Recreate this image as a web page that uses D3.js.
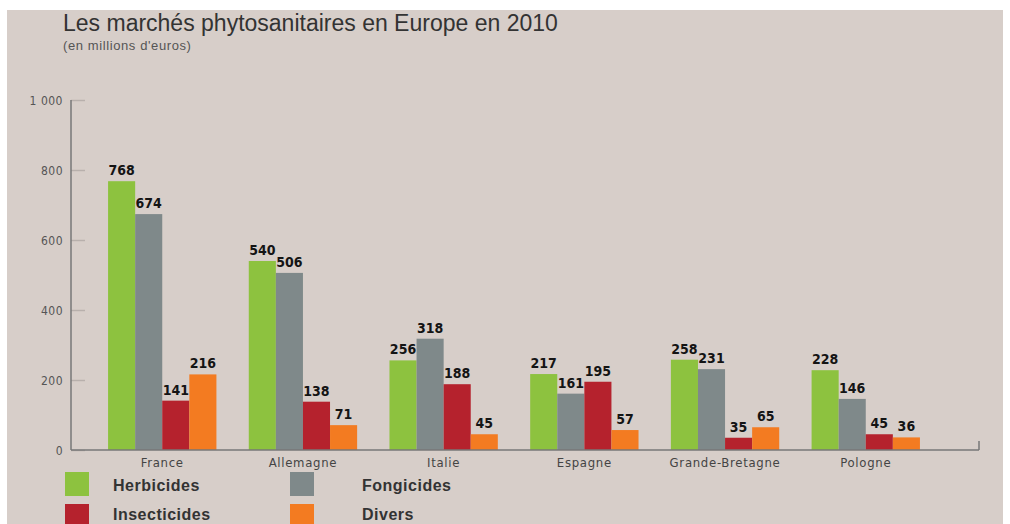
<!DOCTYPE html>
<html>
<head>
<meta charset="utf-8">
<script src="https://d3js.org/d3.v7.min.js"></script>
<style>
  body { margin: 0; background: #fff; }
  svg { display: block; }
</style>
</head>
<body>
<svg id="chart" width="1010" height="524"></svg>
<script>
// data
var countries = ["France", "Allemagne", "Italie", "Espagne", "Grande-Bretagne", "Pologne"];
var seriesNames = ["Herbicides", "Fongicides", "Insecticides", "Divers"];
var herbicides = [768, 540, 256, 217, 258, 228];
var fongicides = [674, 506, 318, 161, 231, 146];
var insecticides = [141, 138, 188, 195, 35, 45];
var divers = [216, 71, 45, 57, 65, 36];
var yTicks = [0, 200, 400, 600, 800, 1000];

var colors = ["#8dc23f", "#7f898a", "#b5222d", "#f37b21"];
var series = [herbicides, fongicides, insecticides, divers];

var svg = d3.select("#chart");

// background panel
svg.append("rect")
  .attr("x", 7).attr("y", 10)
  .attr("width", 996).attr("height", 514)
  .style("fill", "#d7cec9");

// title
svg.append("text")
  .attr("x", 63).attr("y", 31)
  .text("Les marchés phytosanitaires en Europe en 2010")
  .style("font-family", "Liberation Sans, Arial, sans-serif")
  .style("font-size", "23px")
  .style("fill", "#333");
svg.append("text")
  .attr("x", 63).attr("y", 50)
  .text("(en millions d'euros)")
  .style("font-family", "Liberation Sans, Arial, sans-serif")
  .style("font-size", "13px")
  .style("letter-spacing", "0.6px")
  .style("fill", "#555");

var x0 = d3.scaleBand()
  .domain(countries)
  .range([94, 934])
  .paddingInner(0.23)
  .paddingOuter(0.1);

var x1 = d3.scaleBand()
  .domain(seriesNames)
  .range([0, x0.bandwidth()]);

var y = d3.scaleLinear()
  .domain([0, 1000])
  .range([450, 100]);

// y axis
var yAxis = d3.axisRight(y)
  .tickValues(yTicks)
  .tickSize(14)
  .tickFormat(function(d) { return d === 1000 ? "1 000" : d; });

var gy = svg.append("g")
  .attr("transform", "translate(71,0)")
  .call(yAxis);
gy.select(".domain").remove();
gy.selectAll(".tick line")
  .style("stroke", "#b8b0ac")
  .style("stroke-width", 1.5);
gy.selectAll(".tick text")
  .attr("x", -8)
  .attr("dy", "0.35em")
  .style("text-anchor", "end")
  .style("font-family", "DejaVu Sans Condensed, sans-serif")
  .style("font-size", "12px")
  .style("letter-spacing", "0.5px")
  .style("fill", "#555");

svg.append("line")
  .attr("x1", 71).attr("x2", 71)
  .attr("y1", y(1000)).attr("y2", y(0))
  .style("stroke", "#777").style("stroke-width", 1.5);

// bars
var groups = svg.selectAll(".grp")
  .data(countries)
  .enter().append("g")
  .attr("class", "grp")
  .attr("transform", function(d) { return "translate(" + x0(d) + ",0)"; });

groups.each(function(c, i) {
  var g = d3.select(this);
  var vals = series.map(function(s, k) { return { name: seriesNames[k], v: s[i], k: k }; });
  g.selectAll("rect")
    .data(vals)
    .enter().append("rect")
    .attr("x", function(d) { return x1(d.name); })
    .attr("y", function(d) { return y(d.v); })
    .attr("width", x1.bandwidth())
    .attr("height", function(d) { return y(0) - y(d.v); })
    .style("fill", function(d) { return colors[d.k]; });
  g.selectAll("text")
    .data(vals)
    .enter().append("text")
    .attr("x", function(d) { return x1(d.name) + x1.bandwidth() / 2; })
    .attr("y", function(d) { return y(d.v) - 6; })
    .attr("text-anchor", "middle")
    .text(function(d) { return d.v; })
    .style("font-family", "DejaVu Sans Condensed, sans-serif")
    .style("font-weight", "bold")
    .style("font-size", "14px")
    .style("fill", "#141414");
});

// x axis
svg.append("line")
  .attr("x1", 71).attr("x2", 979)
  .attr("y1", y(0)).attr("y2", y(0))
  .style("stroke", "#777").style("stroke-width", 1.5);
svg.append("line")
  .attr("x1", 979).attr("x2", 979)
  .attr("y1", y(0) - 9).attr("y2", y(0))
  .style("stroke", "#777").style("stroke-width", 1.5);

svg.selectAll(".cat")
  .data(countries)
  .enter().append("text")
  .attr("class", "cat")
  .attr("x", function(d) { return x0(d) + x0.bandwidth() / 2; })
  .attr("y", 467)
  .attr("text-anchor", "middle")
  .text(function(d) { return d; })
  .style("font-family", "DejaVu Sans Condensed, sans-serif")
  .style("font-size", "13px")
  .style("letter-spacing", "0.7px")
  .style("fill", "#444");

// legend
var legendPos = [[65, 472], [290, 472], [65, 504], [290, 504]];
var legend = svg.selectAll(".leg")
  .data(seriesNames)
  .enter().append("g")
  .attr("class", "leg")
  .attr("transform", function(d, i) { return "translate(" + legendPos[i][0] + "," + legendPos[i][1] + ")"; });
legend.append("rect")
  .attr("width", 24).attr("height", 24)
  .style("fill", function(d, i) { return colors[i]; });
legend.append("text")
  .attr("x", function(d, i) { return i % 2 === 0 ? 48 : 72; })
  .attr("y", function(d, i) { return i < 2 ? 19 : 16; })
  .text(function(d) { return d; })
  .style("font-family", "Liberation Sans, Arial, sans-serif")
  .style("font-weight", "bold")
  .style("font-size", "16px")
  .style("letter-spacing", "0.5px")
  .style("fill", "#333");
</script>
</body>
</html>
